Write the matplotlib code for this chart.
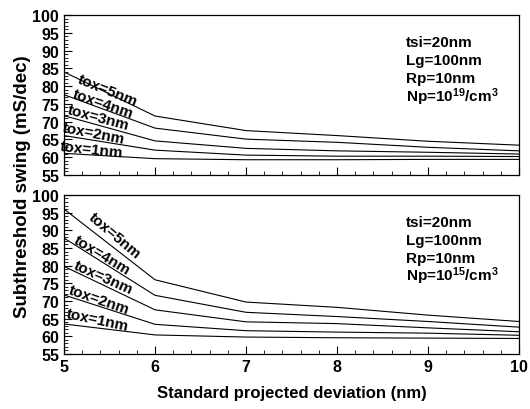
import matplotlib
matplotlib.use("Agg")
import matplotlib.pyplot as plt
from matplotlib.ticker import MultipleLocator
import matplotlib.font_manager as fm

names = {f.name for f in fm.fontManager.ttflist}
narrow = 'Liberation Sans Narrow' if 'Liberation Sans Narrow' in names else 'Liberation Sans'
plt.rcParams['font.family'] = [narrow, 'DejaVu Sans']

x = [5, 6, 7, 8, 9, 10]
tox_labels = ['tox=1nm', 'tox=2nm', 'tox=3nm', 'tox=4nm', 'tox=5nm']

# Np = 1e19 (top)
top_tox1 = [61.1, 59.6, 59.3, 59.3, 59.4, 59.4]
top_tox2 = [66.1, 62.0, 60.6, 60.3, 60.3, 60.2]
top_tox3 = [71.7, 64.6, 62.5, 61.8, 61.4, 60.9]
top_tox4 = [77.6, 68.2, 65.1, 64.2, 62.8, 61.8]
top_tox5 = [84.0, 71.6, 67.5, 66.1, 64.5, 63.4]

# Np = 1e15 (bottom)
bot_tox1 = [63.5, 60.4, 59.8, 59.6, 59.5, 59.4]
bot_tox2 = [71.7, 63.4, 61.6, 61.2, 60.9, 60.3]
bot_tox3 = [79.8, 67.5, 64.1, 63.6, 62.4, 61.3]
bot_tox4 = [87.8, 71.6, 66.8, 65.6, 64.2, 62.6]
bot_tox5 = [96.0, 76.0, 69.7, 68.2, 66.0, 64.2]

top_series = [top_tox1, top_tox2, top_tox3, top_tox4, top_tox5]
bot_series = [bot_tox1, bot_tox2, bot_tox3, bot_tox4, bot_tox5]

top_lab_pos = [(5.30, 62.2, -6), (5.33, 66.8, -11), (5.38, 71.2, -15), (5.43, 75.2, -19), (5.48, 79.0, -22)]
bot_lab_pos = [(5.37, 64.8, -12), (5.39, 70.4, -19), (5.43, 76.6, -24), (5.42, 83.0, -31), (5.56, 88.7, -40)]

top_info = ['tsi=20nm', 'Lg=100nm', 'Rp=10nm', r'Np=10$^{\mathbf{19}}$/cm$^{\mathbf{3}}$']
bot_info = ['tsi=20nm', 'Lg=100nm', 'Rp=10nm', r'Np=10$^{\mathbf{15}}$/cm$^{\mathbf{3}}$']

plt.rcParams['mathtext.fontset'] = 'custom'
plt.rcParams['mathtext.bf'] = narrow + ':bold'
plt.rcParams['mathtext.rm'] = narrow + ':bold'
plt.rcParams['mathtext.default'] = 'bf'

fig = plt.figure(figsize=(5.3, 4.1), dpi=100)
ax_top = fig.add_axes([0.1208, 0.5707, 0.8585, 0.390])
ax_bot = fig.add_axes([0.1208, 0.1341, 0.8585, 0.388])

for ax, series, labpos, info in [(ax_top, top_series, top_lab_pos, top_info),
                                 (ax_bot, bot_series, bot_lab_pos, bot_info)]:
    for s in series:
        ax.plot(x, s, color='black', lw=0.8)
    for (lx, ly, rot), lab in zip(labpos, tox_labels):
        ax.text(lx, ly, lab, rotation=rot, ha='center', va='center',
                fontsize=11, fontweight='bold', rotation_mode='anchor')
    for i, t in enumerate(info):
        ax.text(0.752, 0.83 - i * 0.112, t, transform=ax.transAxes, fontsize=11,
                fontweight='bold', ha='left', va='center')
    ax.set_xlim(5, 10)
    ax.set_ylim(55, 100)
    ax.xaxis.set_major_locator(MultipleLocator(1))
    ax.xaxis.set_minor_locator(MultipleLocator(0.2))
    ax.yaxis.set_major_locator(MultipleLocator(5))
    ax.yaxis.set_minor_locator(MultipleLocator(1))
    ax.tick_params(which='both', direction='in', top=False, right=False)
    ax.tick_params(which='major', length=6, width=0.8, labelsize=11.5)
    ax.tick_params(which='minor', length=3, width=0.6)
    for lbl in ax.get_xticklabels() + ax.get_yticklabels():
        lbl.set_fontweight('bold')
    for sp in ax.spines.values():
        sp.set_linewidth(0.9)

ax_top.tick_params(labelbottom=False)
ax_bot.set_xticks([5, 6, 7, 8, 9, 10])
ax_bot.set_xticklabels(['5', '6', '7', '8', '9', '10'], fontweight='bold', fontsize=11.5)

fig.text(0.042, 0.545, 'Subthreshold swing (mS/dec)', rotation=90, ha='center', va='center',
         fontsize=13.5, fontweight='bold')
fig.text(0.55, 0.04, 'Standard projected deviation (nm)', ha='center', va='center',
         fontsize=12, fontweight='bold')

fig.savefig('out.png', dpi=100)
